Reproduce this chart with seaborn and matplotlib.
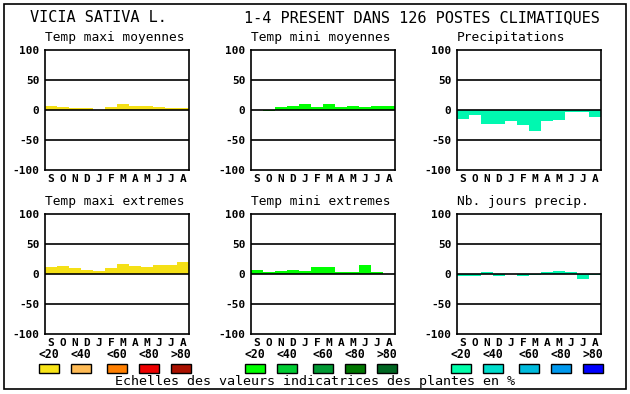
import matplotlib
matplotlib.use("Agg")
import matplotlib.pyplot as plt
from matplotlib.patches import Rectangle
import seaborn as sns
import pandas as pd
import numpy as np

sns.set_theme(style="white")
plt.rcParams['font.family'] = ['DejaVu Sans Mono', 'DejaVu Sans']

# ---- data ----
mois = ["S", "O", "N", "D", "J", "F", "M", "A", "M", "J", "J", "A"]
temp_maxi_moy = [7, 5.5, 4, 4, 0, 5.5, 10.5, 7, 7, 5.5, 4, 4]
temp_mini_moy = [0, -2, 5.5, 7, 10.5, 5.5, 10.5, 5.5, 7, 5.5, 7, 7]
precipitations = [-15.5, -8, -23, -23, -18, -24.5, -34.5, -18, -16, -3, -3, -11]
temp_maxi_ext = [11.7, 13.3, 10, 6.7, 5, 10, 16.7, 13.3, 11.7, 15, 15, 20]
temp_mini_ext = [6.7, 3.3, 5, 6.7, 5, 11.7, 11.7, 3.3, 3.3, 15, 3.3, 0]
nb_jours_precip = [-3.3, -3.3, 3.3, -3.3, 0, -3.3, -1.7, 3.3, 5, 3.3, -8.3, -1.7]

titres = ["Temp maxi moyennes", "Temp mini moyennes", "Precipitations",
          "Temp maxi extremes", "Temp mini extremes", "Nb. jours precip."]
series = [temp_maxi_moy, temp_mini_moy, precipitations,
          temp_maxi_ext, temp_mini_ext, nb_jours_precip]
couleurs_barres = ["#f5e016", "#00ff00", "#00f8b0", "#f5e016", "#00ff00", "#00f8b0"]

seuils = ["<20", "<40", "<60", "<80", ">80"]
palette_jaune = ["#f8e418", "#ffbb55", "#ff7f00", "#ee0000", "#aa1100"]
palette_vert = ["#00ff00", "#00cc33", "#009933", "#007700", "#006622"]
palette_bleu = ["#00ffaa", "#00ddcc", "#00bbdd", "#0099ee", "#0000ff"]
palettes = [palette_jaune, palette_vert, palette_bleu]

titre_gauche = "VICIA SATIVA L."
titre_droite = "1-4 PRESENT DANS 126 POSTES CLIMATIQUES"
legende_texte = "Echelles des valeurs indicatrices des plantes en %"

W, H = 630, 394
fig = plt.figure(figsize=(W / 100, H / 100), dpi=100)

def fx(px):
    return px / W

def fy(py):
    return 1 - py / H

lefts = [45, 251, 457]
tops = [50, 214]
aw, ah = 144, 120

for i in range(6):
    r, c = divmod(i, 3)
    L, T = lefts[c], tops[r]
    ax = fig.add_axes([fx(L), fy(T + ah), aw / W, ah / H])
    df = pd.DataFrame({"pos": list(range(12)), "val": series[i]})
    sns.barplot(data=df, x="pos", y="val", color=couleurs_barres[i], width=1.0,
                saturation=1, ax=ax, order=list(range(12)), errorbar=None,
                edgecolor="none", linewidth=0)
    ax.set_xlim(-0.5, 11.5)
    ax.set_ylim(-100, 100)
    for yv in [50, 0, -50]:
        ax.axhline(yv, color="black", lw=1.2, zorder=5)
    ax.set_yticks([100, 50, 0, -50, -100])
    ax.set_yticklabels(["100", "50", "0", "-50", "-100"], fontweight="bold", fontsize=8)
    ax.set_xticks(range(12))
    ax.set_xticklabels(mois, fontweight="bold", fontsize=8)
    ax.tick_params(axis="both", length=0, pad=3, colors="black")
    ax.tick_params(axis="y", pad=4)
    ax.set_xlabel("")
    ax.set_ylabel("")
    for s in ax.spines.values():
        s.set_color("black")
        s.set_linewidth(1.2)
    fig.text(fx(L), fy(T - 12), titres[i], fontsize=9.3, ha="left", va="center", color="black")

# main titles
fig.text(fx(30), fy(18), titre_gauche, fontsize=11, ha="left", va="center", color="black")
fig.text(fx(600), fy(18), titre_droite, fontsize=11, ha="right", va="center", color="black")

# legend scales
offsets = [-6, 26, 62, 94, 126]
for c in range(3):
    for k in range(5):
        x0 = lefts[c] + offsets[k]
        fig.text(fx(x0 + 10), fy(354), seuils[k], fontsize=8.3, fontweight="bold",
                 ha="center", va="center", color="black")
        fig.add_artist(Rectangle((fx(x0), fy(373)), 20 / W, 9 / H,
                                 transform=fig.transFigure, facecolor=palettes[c][k],
                                 edgecolor="black", linewidth=1))

fig.text(fx(315), fy(382), legende_texte, fontsize=9.6, ha="center", va="center", color="black")

# outer frame
fig.add_artist(Rectangle((fx(4), fy(389)), 622 / W, 385 / H, transform=fig.transFigure,
                         facecolor="none", edgecolor="black", linewidth=1.2))

fig.savefig("out.png", dpi=100)
